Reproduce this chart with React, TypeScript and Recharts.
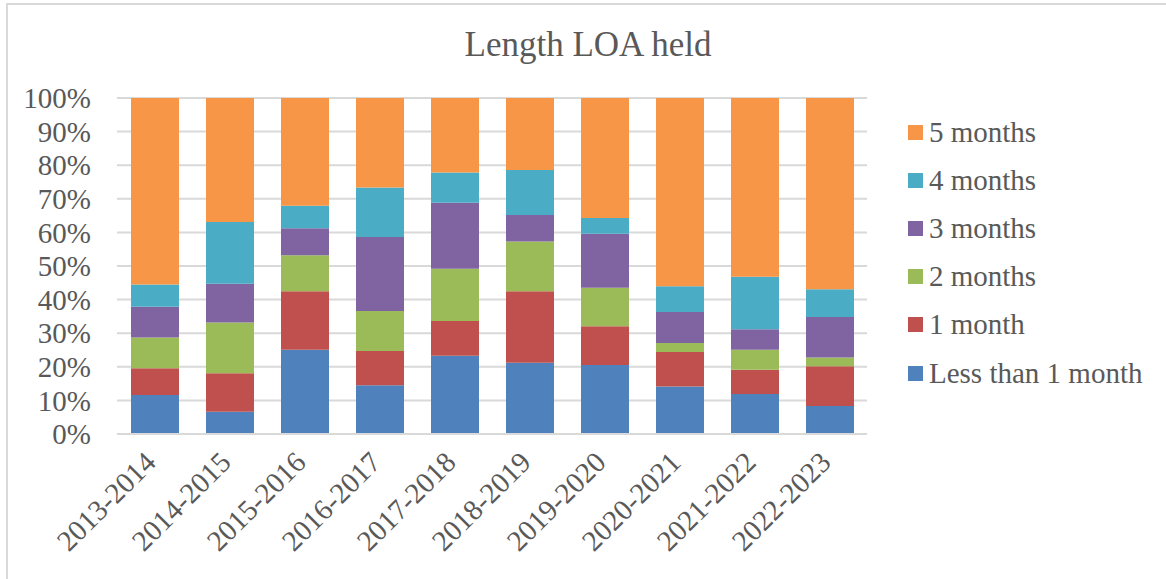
import { BarChart, Bar, XAxis, YAxis, CartesianGrid } from "recharts";

const years = [
  "2013-2014",
  "2014-2015",
  "2015-2016",
  "2016-2017",
  "2017-2018",
  "2018-2019",
  "2019-2020",
  "2020-2021",
  "2021-2022",
  "2022-2023",
];

// shares in percent
const lessThan1 = [11.6, 6.6, 25.1, 14.5, 23.3, 21.2, 20.5, 14.1, 11.9, 8.3];
const oneMonth = [8.0, 11.5, 17.4, 10.2, 10.3, 21.3, 11.6, 10.3, 7.2, 11.9];
const twoMonths = [9.1, 15.1, 10.7, 11.9, 15.6, 14.8, 11.4, 2.7, 6.0, 2.6];
const threeMonths = [9.2, 11.5, 8.0, 22.0, 19.6, 7.9, 16.1, 9.2, 6.1, 12.0];
const fourMonths = [6.6, 18.4, 6.7, 14.8, 9.0, 13.4, 4.7, 7.7, 15.6, 8.3];
const fiveMonths = [55.5, 36.9, 32.1, 26.6, 22.2, 21.4, 35.7, 56.0, 53.2, 56.9];

const yTicks = [0, 10, 20, 30, 40, 50, 60, 70, 80, 90, 100];

const series = [
  { key: "less1", name: "Less than 1 month", color: "#4F81BD", values: lessThan1 },
  { key: "m1", name: "1 month", color: "#C0504D", values: oneMonth },
  { key: "m2", name: "2 months", color: "#9BBB59", values: twoMonths },
  { key: "m3", name: "3 months", color: "#8064A2", values: threeMonths },
  { key: "m4", name: "4 months", color: "#4BACC6", values: fourMonths },
  { key: "m5", name: "5 months", color: "#F79646", values: fiveMonths },
];

const data = years.map((year, i) => {
  const row: any = { year };
  series.forEach((s) => {
    row[s.key] = s.values[i];
  });
  return row;
});

const FONT = "'Liberation Serif', 'Times New Roman', serif";
const TEXT = "#595959";

const YearTick = ({ x, y, payload }: any) => (
  <text
    x={x + 3}
    y={y + 22}
    transform={`rotate(-45, ${x + 3}, ${y + 22})`}
    textAnchor="end"
    fontFamily={FONT}
    fontSize={29}
    fill={TEXT}
  >
    {payload.value}
  </text>
);

export default function App() {
  return (
    <div
      style={{
        position: "absolute",
        left: 0,
        top: 0,
        width: 1166,
        height: 579,
        background: "#fff",
        overflow: "hidden",
      }}
    >
      {/* chart frame */}
      <div
        style={{
          position: "absolute",
          left: 6,
          top: 3,
          width: 1200,
          height: 620,
          borderLeft: "2px solid #d9d9d9",
          borderTop: "2px solid #d9d9d9",
        }}
      />
      <div
        style={{
          position: "absolute",
          left: 0,
          width: 1176,
          top: 27,
          textAlign: "center",
          fontFamily: FONT,
          fontSize: 35,
          lineHeight: "35px",
          color: TEXT,
        }}
      >
        Length LOA held
      </div>
      <BarChart
        width={1166}
        height={579}
        data={data}
        margin={{ top: 98, right: 299, bottom: 0, left: 0 }}
        barSize={48}
        style={{ position: "absolute", left: 0, top: 0 }}
      >
        <CartesianGrid vertical={false} stroke="#d9d9d9" strokeWidth={2} />
        <XAxis
          dataKey="year"
          height={145}
          interval={0}
          tickLine={false}
          axisLine={{ stroke: "#d9d9d9", strokeWidth: 2 }}
          tick={<YearTick />}
        />
        <YAxis
          width={117}
          domain={[0, 100]}
          ticks={yTicks}
          interval={0}
          tickFormatter={(v) => `${v}%`}
          tickLine={false}
          axisLine={false}
          tickMargin={20}
          tick={{ fontFamily: FONT, fontSize: 29, fill: TEXT }}
        />
        {series.map((s) => (
          <Bar
            key={s.key}
            dataKey={s.key}
            name={s.name}
            stackId="a"
            fill={s.color}
            isAnimationActive={false}
          />
        ))}
      </BarChart>
      {/* legend, top entry is the last series */}
      <div
        style={{
          position: "absolute",
          left: 908,
          top: 108,
          width: 258,
          fontFamily: FONT,
          fontSize: 29,
          color: TEXT,
        }}
      >
        {[...series].reverse().map((s) => (
          <div
            key={s.key}
            style={{ height: 48.2, display: "flex", alignItems: "center", whiteSpace: "nowrap" }}
          >
            <span
              style={{
                width: 15,
                height: 15,
                background: s.color,
                display: "inline-block",
                marginRight: 6,
                flexShrink: 0,
              }}
            />
            {s.name}
          </div>
        ))}
      </div>
    </div>
  );
}
